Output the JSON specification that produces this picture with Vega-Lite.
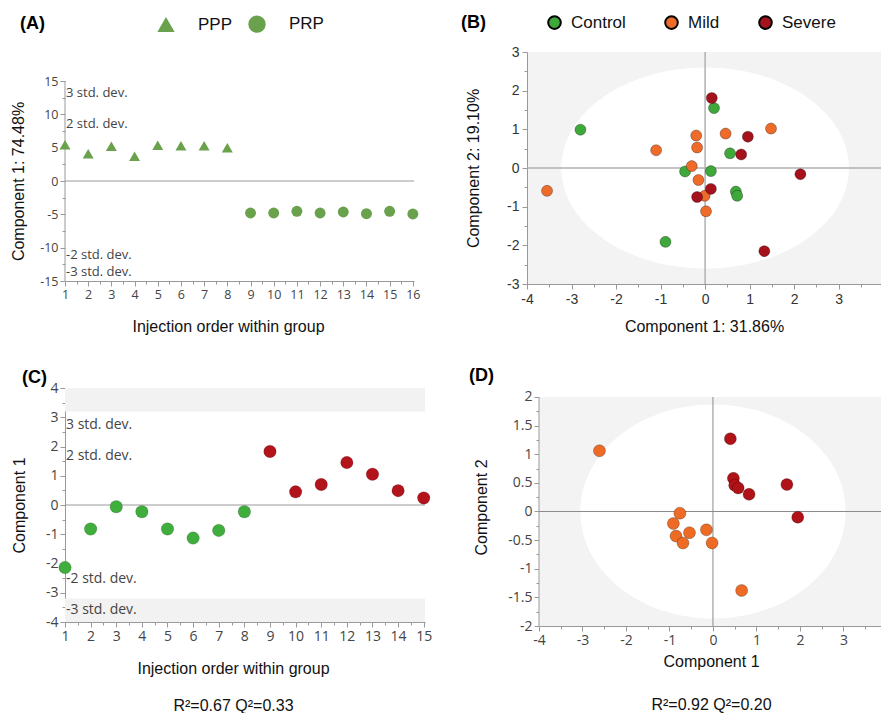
{
  "$schema": "https://vega.github.io/schema/vega-lite/v6.json",
  "background": "white",
  "padding": {"left": 10, "top": 14, "right": 0, "bottom": 0},
  "config": {
    "font": "Liberation Sans",
    "view": {"stroke": null},
    "axis": {
      "labelFont": "Open Sans", "labelFontSize": 12.5, "labelColor": "#444",
      "titleFont": "Liberation Sans", "titleFontSize": 16, "titleFontWeight": "normal", "titleColor": "#111",
      "domainColor": "#999", "tickColor": "#999", "grid": false,
      "labelOverlap": false, "labelFlush": false, "labelPadding": 2, "tickSize": 5
    },
    "legend": {"padding": 0, "labelFont": "Liberation Sans", "labelFontSize": 17, "labelColor": "#111",
      "titleFont": "Liberation Sans", "titleFontSize": 18, "titleFontWeight": "bold", "titleColor": "#000"}
  },
  "spacing": 32,
  "resolve": {"scale": {"color": "independent", "shape": "independent"}},
  "vconcat": [
    {
      "spacing": 41,
      "resolve": {"scale": {"color": "independent", "shape": "independent"}},
      "hconcat": [
        {
          "width": 349, "height": 229,
          "resolve": {"axis": {"x": "independent", "y": "independent"}},
          "layer": [
            {"data": {"values": [{}]},
             "mark": {"type": "rule", "color": "#9a9a9a", "strokeWidth": 1},
             "encoding": {"y": {"datum": 0, "type": "quantitative", "axis": null}}},
            {"data": {"values": [{}]},
             "mark": {"type": "rule", "color": "#999", "strokeWidth": 1},
             "encoding": {
               "x": {"datum": 1, "type": "quantitative",
                 "axis": {"orient": "bottom", "values": [1.5,2.5,3.5,4.5,5.5,6.5,7.5,8.5,9.5,10.5,11.5,12.5,13.5,14.5,15.5],
                   "labels": false, "domain": false, "tickSize": 3, "title": null}},
               "y": {"datum": -15, "type": "quantitative",
                 "axis": {"orient": "left", "values": [-12.5,-7.5,-2.5,2.5,7.5,12.5],
                   "labels": false, "domain": false, "tickSize": 3, "title": null}},
               "y2": {"datum": 15}}},
            {"data": {"values": [
               {"t": "3 std. dev.", "v": 13.2}, {"t": "2 std. dev.", "v": 8.6},
               {"t": "-2 std. dev.", "v": -11.1}, {"t": "-3 std. dev.", "v": -13.6}]},
             "mark": {"type": "text", "align": "left", "dx": 1, "font": "Open Sans", "fontSize": 13, "color": "#444"},
             "encoding": {"x": {"datum": 1, "type": "quantitative", "axis": null},
               "y": {"field": "v", "type": "quantitative", "axis": null}, "text": {"field": "t"}}},
            {"data": {"values": [
               {"order": 1, "score": 5.45, "type": "PPP"}, {"order": 2, "score": 4.1, "type": "PPP"},
               {"order": 3, "score": 5.2, "type": "PPP"}, {"order": 4, "score": 3.7, "type": "PPP"},
               {"order": 5, "score": 5.35, "type": "PPP"}, {"order": 6, "score": 5.3, "type": "PPP"},
               {"order": 7, "score": 5.3, "type": "PPP"}, {"order": 8, "score": 5.0, "type": "PPP"},
               {"order": 9, "score": -4.8, "type": "PRP"}, {"order": 10, "score": -4.8, "type": "PRP"},
               {"order": 11, "score": -4.55, "type": "PRP"}, {"order": 12, "score": -4.8, "type": "PRP"},
               {"order": 13, "score": -4.65, "type": "PRP"}, {"order": 14, "score": -4.9, "type": "PRP"},
               {"order": 15, "score": -4.55, "type": "PRP"}, {"order": 16, "score": -4.95, "type": "PRP"}]},
             "mark": {"type": "point", "filled": true, "opacity": 1, "color": "#6aa14c", "size": 120},
             "encoding": {
               "x": {"field": "order", "type": "quantitative",
                 "scale": {"domain": [1, 16.05], "nice": false, "zero": false},
                 "axis": {"orient": "bottom", "title": "Injection order within group", "titlePadding": 18, "titleX": 163,
                   "values": [1,2,3,4,5,6,7,8,9,10,11,12,13,14,15,16],
                   "labelExpr": "'' + datum.value"}},
               "y": {"field": "score", "type": "quantitative",
                 "scale": {"domain": [-15, 19.35], "nice": false, "zero": false},
                 "axis": {"orient": "left", "title": "Component 1: 74.48%", "titlePadding": 13, "titleY": 129, "domain": false,
                   "values": [-15,-10,-5,0,5,10,15],
                   "labelExpr": "'' + datum.value"}},
               "shape": {"field": "type", "type": "nominal",
                 "scale": {"domain": ["PPP", "PRP"], "range": ["triangle-up", "circle"]},
                 "legend": {"orient": "none", "legendX": -45, "legendY": -37, "direction": "horizontal",
                   "title": "(A)", "titleOrient": "left", "titlePadding": 112,
                   "symbolSize": 300, "symbolFillColor": "#6aa14c", "symbolStrokeWidth": 0,
                   "labelOffset": 23, "columnPadding": 15}}
             }}
          ]
        },
        {
          "width": 354, "height": 232,
          "view": {"fill": "#f3f3f3", "stroke": null},
          "resolve": {"axis": {"x": "independent", "y": "independent"}},
          "layer": [
            {"data": {"values": [{}]},
             "mark": {"type": "point", "filled": true, "color": "white", "opacity": 1, "size": 82714,
               "shape": "M-1,0C-1,-0.386,-0.5523,-0.699,0,-0.699C0.5523,-0.699,1,-0.386,1,0C1,0.386,0.5523,0.699,0,0.699C-0.5523,0.699,-1,0.386,-1,0Z"},
             "encoding": {
               "x": {"datum": 0, "type": "quantitative",
                 "axis": {"orient": "bottom", "values": [-3.5,-2.5,-1.5,-0.5,0.5,1.5,2.5,3.5],
                   "labels": false, "domain": false, "tickSize": 3, "title": null}},
               "y": {"datum": 0, "type": "quantitative",
                 "axis": {"orient": "left", "values": [-2.5,-1.5,-0.5,0.5,1.5,2.5],
                   "labels": false, "domain": false, "tickSize": 3, "title": null}}}},
            {"data": {"values": [{}]},
             "mark": {"type": "rule", "color": "#b0b0b0", "strokeWidth": 1.5},
             "encoding": {"x": {"datum": 0, "type": "quantitative", "axis": null}}},
            {"data": {"values": [{}]},
             "mark": {"type": "rule", "color": "#b0b0b0", "strokeWidth": 1.5},
             "encoding": {"y": {"datum": 0, "type": "quantitative", "axis": null}}},
            {"data": {"values": [
               {"c1": -2.80, "c2": 0.99, "group": "Control"}, {"c1": 0.20, "c2": 1.55, "group": "Control"},
               {"c1": 0.56, "c2": 0.38, "group": "Control"}, {"c1": -0.45, "c2": -0.09, "group": "Control"},
               {"c1": 0.13, "c2": -0.08, "group": "Control"}, {"c1": 0.69, "c2": -0.61, "group": "Control"},
               {"c1": 0.72, "c2": -0.72, "group": "Control"}, {"c1": -0.89, "c2": -1.91, "group": "Control"},
               {"c1": -3.55, "c2": -0.59, "group": "Mild"}, {"c1": -1.10, "c2": 0.46, "group": "Mild"},
               {"c1": -0.20, "c2": 0.84, "group": "Mild"}, {"c1": -0.18, "c2": 0.53, "group": "Mild"},
               {"c1": -0.30, "c2": 0.05, "group": "Mild"}, {"c1": -0.15, "c2": -0.31, "group": "Mild"},
               {"c1": -0.01, "c2": -0.72, "group": "Mild"}, {"c1": 0.02, "c2": -1.12, "group": "Mild"},
               {"c1": 0.46, "c2": 0.89, "group": "Mild"}, {"c1": 1.48, "c2": 1.02, "group": "Mild"},
               {"c1": 0.15, "c2": 1.81, "group": "Severe"}, {"c1": 0.96, "c2": 0.81, "group": "Severe"},
               {"c1": 0.81, "c2": 0.35, "group": "Severe"}, {"c1": 2.14, "c2": -0.16, "group": "Severe"},
               {"c1": 0.13, "c2": -0.54, "group": "Severe"}, {"c1": -0.18, "c2": -0.75, "group": "Severe"},
               {"c1": 1.33, "c2": -2.15, "group": "Severe"}]},
             "mark": {"type": "circle", "size": 121, "opacity": 1, "stroke": "#000", "strokeOpacity": 0.3, "strokeWidth": 1},
             "encoding": {
               "x": {"field": "c1", "type": "quantitative",
                 "scale": {"domain": [-4, 3.95], "nice": false, "zero": false},
                 "axis": {"orient": "bottom", "title": "Component 1: 31.86%", "titlePadding": 12, "labelFont": "Liberation Sans", "labelFontSize": 14, "labelColor": "#333", "labelPadding": 3,
                   "values": [-4,-3,-2,-1,0,1,2,3], "labelExpr": "'' + datum.value"}},
               "y": {"field": "c2", "type": "quantitative",
                 "scale": {"domain": [-3, 3], "nice": false, "zero": false},
                 "axis": {"orient": "left", "title": "Component 2: 19.10%", "titlePadding": 25, "labelFont": "Liberation Sans", "labelFontSize": 14, "labelColor": "#333", "labelPadding": 3,
                   "values": [-3,-2,-1,0,1,2,3], "labelExpr": "'' + datum.value"}},
               "color": {"field": "group", "type": "nominal",
                 "scale": {"domain": ["Control", "Mild", "Severe"], "range": ["#3fa83b", "#ef6b2a", "#a5121b"]},
                 "legend": {"orient": "none", "legendX": -66, "legendY": -38, "direction": "horizontal",
                   "title": "(B)", "titleOrient": "left", "titlePadding": 60,
                   "symbolType": "circle", "symbolSize": 160, "symbolStrokeColor": "#000", "symbolStrokeWidth": 2, "symbolOpacity": 1,
                   "labelOffset": 8, "columnPadding": 35}}
             }}
          ]
        }
      ]
    },
    {
      "spacing": 37,
      "resolve": {"scale": {"color": "independent", "shape": "independent"}},
      "hconcat": [
        {
          "width": 360, "height": 234,
          "title": {"text": "(C)", "anchor": "start", "frame": "group", "dx": -43, "offset": -6,
            "fontSize": 18, "fontWeight": "bold", "color": "#000", "font": "Liberation Sans"},
          "resolve": {"axis": {"x": "independent", "y": "independent"}},
          "layer": [
            {"data": {"values": [{"lo": 3.2, "hi": 4}, {"lo": -4, "hi": -3.2}]},
             "mark": {"type": "rect", "color": "#f2f2f2"},
             "encoding": {
               "x": {"datum": 1, "type": "quantitative",
                 "axis": {"orient": "bottom", "values": [1.5,2.5,3.5,4.5,5.5,6.5,7.5,8.5,9.5,10.5,11.5,12.5,13.5,14.5],
                   "labels": false, "domain": false, "tickSize": 3, "title": null}},
               "x2": {"datum": 15.05},
               "y": {"field": "lo", "type": "quantitative",
                 "axis": {"orient": "left", "values": [-3.5,-2.5,-1.5,-0.5,0.5,1.5,2.5,3.5],
                   "labels": false, "domain": false, "tickSize": 3, "title": null}},
               "y2": {"field": "hi"}}},
            {"data": {"values": [{}]},
             "mark": {"type": "rule", "color": "#9a9a9a", "strokeWidth": 1},
             "encoding": {"y": {"datum": 0, "type": "quantitative", "axis": null}}},
            {"data": {"values": [
               {"t": "3 std. dev.", "v": 2.74}, {"t": "2 std. dev.", "v": 1.68},
               {"t": "-2 std. dev.", "v": -2.54}, {"t": "-3 std. dev.", "v": -3.59}]},
             "mark": {"type": "text", "align": "left", "dx": 1, "font": "Open Sans", "fontSize": 14, "color": "#444"},
             "encoding": {"x": {"datum": 1, "type": "quantitative", "axis": null},
               "y": {"field": "v", "type": "quantitative", "axis": null}, "text": {"field": "t"}}},
            {"data": {"values": [
               {"order": 1, "score": -2.14, "group": "Control"}, {"order": 2, "score": -0.82, "group": "Control"},
               {"order": 3, "score": -0.06, "group": "Control"}, {"order": 4, "score": -0.23, "group": "Control"},
               {"order": 5, "score": -0.82, "group": "Control"}, {"order": 6, "score": -1.13, "group": "Control"},
               {"order": 7, "score": -0.87, "group": "Control"}, {"order": 8, "score": -0.23, "group": "Control"},
               {"order": 9, "score": 1.83, "group": "Severe"}, {"order": 10, "score": 0.45, "group": "Severe"},
               {"order": 11, "score": 0.70, "group": "Severe"}, {"order": 12, "score": 1.45, "group": "Severe"},
               {"order": 13, "score": 1.05, "group": "Severe"}, {"order": 14, "score": 0.49, "group": "Severe"},
               {"order": 15, "score": 0.24, "group": "Severe"}]},
             "mark": {"type": "circle", "size": 156, "opacity": 1, "stroke": "#000", "strokeOpacity": 0.15, "strokeWidth": 1},
             "encoding": {
               "x": {"field": "order", "type": "quantitative",
                 "scale": {"domain": [1, 15.05], "nice": false, "zero": false},
                 "axis": {"orient": "bottom", "title": ["Injection order within group", "R²=0.67 Q²=0.33"], "titleLineHeight": 37, "titlePadding": 17, "titleX": 168,
                   "labelFontSize": 14, "values": [1,2,3,4,5,6,7,8,9,10,11,12,13,14,15], "labelExpr": "'' + datum.value"}},
               "y": {"field": "score", "type": "quantitative",
                 "scale": {"domain": [-4, 4], "nice": false, "zero": false},
                 "axis": {"orient": "left", "title": "Component 1", "titlePadding": 18, "labelFontSize": 14,
                   "values": [-4,-3,-2,-1,0,1,2,3,4], "labelExpr": "'' + datum.value"}},
               "color": {"field": "group", "type": "nominal",
                 "scale": {"domain": ["Control", "Severe"], "range": ["#3fae3c", "#b3141b"]}, "legend": null}
             }}
          ]
        },
        {
          "width": 344, "height": 238,
          "title": {"text": "(D)", "anchor": "start", "frame": "group", "dx": -70, "offset": 3,
            "fontSize": 18, "fontWeight": "bold", "color": "#000", "font": "Liberation Sans"},
          "resolve": {"axis": {"x": "independent", "y": "independent"}},
          "layer": [
            {"data": {"values": [{}]},
             "mark": {"type": "rect", "color": "#f3f3f3"},
             "encoding": {"x": {"datum": -4, "type": "quantitative", "axis": null}, "x2": {"datum": 3.91},
               "y": {"datum": -2, "type": "quantitative", "axis": null}, "y2": {"datum": 2}}},
            {"data": {"values": [{}]},
             "mark": {"type": "point", "filled": true, "color": "white", "opacity": 1, "size": 70384,
               "shape": "M-1,0C-1,-0.4457,-0.5523,-0.807,0,-0.807C0.5523,-0.807,1,-0.4457,1,0C1,0.4457,0.5523,0.807,0,0.807C-0.5523,0.807,-1,0.4457,-1,0Z"},
             "encoding": {"x": {"datum": 0, "type": "quantitative", "axis": null}, "y": {"datum": 0, "type": "quantitative", "axis": null}}},
            {"data": {"values": [{}]},
             "mark": {"type": "rule", "color": "#8a8a8a", "strokeWidth": 1},
             "encoding": {"x": {"datum": 0, "type": "quantitative", "axis": null},
               "y": {"datum": -2, "type": "quantitative", "axis": null}, "y2": {"datum": 2}}},
            {"data": {"values": [{}]},
             "mark": {"type": "rule", "color": "#8a8a8a", "strokeWidth": 1},
             "encoding": {"y": {"datum": 0, "type": "quantitative", "axis": null}}},
            {"data": {"values": [{}]},
             "mark": {"type": "rule", "color": "#999", "strokeWidth": 1},
             "encoding": {
               "x": {"datum": -4, "type": "quantitative",
                 "axis": {"orient": "bottom", "values": [-3.5,-2.5,-1.5,-0.5,0.5,1.5,2.5,3.5],
                   "labels": false, "domain": false, "tickSize": 3, "title": null}},
               "y": {"datum": -2, "type": "quantitative",
                 "axis": {"orient": "left", "values": [-1.75,-1.25,-0.75,-0.25,0.25,0.75,1.25,1.75],
                   "labels": false, "domain": false, "tickSize": 3, "title": null}},
               "y2": {"datum": 2}}},
            {"data": {"values": [
               {"c1": -2.61, "c2": 1.06, "group": "Mild"}, {"c1": -0.76, "c2": -0.03, "group": "Mild"},
               {"c1": -0.91, "c2": -0.21, "group": "Mild"}, {"c1": -0.85, "c2": -0.43, "group": "Mild"},
               {"c1": -0.69, "c2": -0.55, "group": "Mild"}, {"c1": -0.54, "c2": -0.37, "group": "Mild"},
               {"c1": -0.15, "c2": -0.32, "group": "Mild"}, {"c1": -0.02, "c2": -0.55, "group": "Mild"},
               {"c1": 0.66, "c2": -1.38, "group": "Mild"},
               {"c1": 0.40, "c2": 1.27, "group": "Severe"}, {"c1": 0.47, "c2": 0.58, "group": "Severe"},
               {"c1": 0.50, "c2": 0.46, "group": "Severe"}, {"c1": 0.58, "c2": 0.41, "group": "Severe"},
               {"c1": 0.83, "c2": 0.30, "group": "Severe"}, {"c1": 1.70, "c2": 0.47, "group": "Severe"},
               {"c1": 1.95, "c2": -0.10, "group": "Severe"}]},
             "mark": {"type": "circle", "size": 144, "opacity": 1, "stroke": "#000", "strokeOpacity": 0.25, "strokeWidth": 1},
             "encoding": {
               "x": {"field": "c1", "type": "quantitative",
                 "scale": {"domain": [-4, 3.91], "nice": false, "zero": false},
                 "axis": {"orient": "bottom", "title": ["Component 1", "R²=0.92 Q²=0.20"], "titleLineHeight": 43, "titlePadding": 6,
                   "labelFontSize": 14, "values": [-4,-3,-2,-1,0,1,2,3], "labelExpr": "'' + datum.value"}},
               "y": {"field": "c2", "type": "quantitative",
                 "scale": {"domain": [-2, 2.157], "nice": false, "zero": false},
                 "axis": {"orient": "left", "title": "Component 2", "titlePadding": 18, "labelFontSize": 14, "domain": false,
                   "values": [-2,-1.5,-1,-0.5,0,0.5,1,1.5,2], "labelExpr": "'' + datum.value"}},
               "color": {"field": "group", "type": "nominal",
                 "scale": {"domain": ["Mild", "Severe"], "range": ["#ee6b26", "#b11218"]}, "legend": null}
             }}
          ]
        }
      ]
    }
  ]
}
